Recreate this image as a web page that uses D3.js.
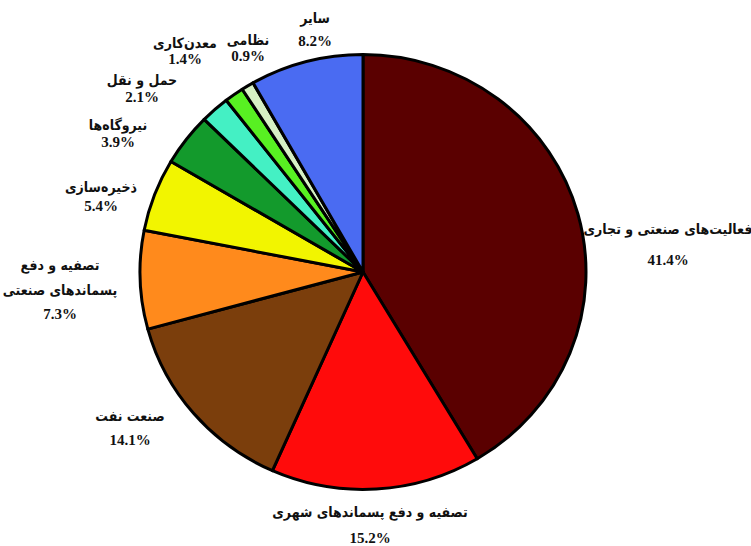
<!DOCTYPE html>
<html>
<head>
<meta charset="utf-8">
<script src="https://cdn.jsdelivr.net/npm/d3@7"></script>
<style>
  body { margin: 0; background: #fff; }
  text { font-family: "Liberation Serif", serif; font-weight: bold; fill: #111; }
  text.fa { font-family: "DejaVu Sans Condensed", "DejaVu Sans", sans-serif; }
</style>
</head>
<body>
<div id="chart"></div>
<script>
// data
var categories = ["فعالیت‌های صنعتی و تجاری", "تصفیه و دفع پسماندهای شهری", "صنعت نفت",
  "تصفیه و دفع پسماندهای صنعتی", "ذخیره‌سازی", "نیروگاه‌ها", "حمل و نقل", "معدن‌کاری", "نظامی", "سایر"];
var values = [41.4, 15.2, 14.1, 7.3, 5.4, 3.9, 2.1, 1.4, 0.9, 8.2];
var colors = ["#5a0000", "#ff0b0b", "#7b3e0c", "#ff8a1c", "#f2f500", "#139a2c", "#44f0c4", "#58f022", "#d6f0c4", "#4a6bf2"];

// label layout: lines of text and anchor point (centre of first line)
var labelLines = [
  ["فعالیت‌های صنعتی و تجاری"],
  ["تصفیه و دفع پسماندهای شهری"],
  ["صنعت نفت"],
  ["تصفیه و دفع", "پسماندهای صنعتی"],
  ["ذخیره‌سازی"],
  ["نیروگاه‌ها"],
  ["حمل و نقل"],
  ["معدن‌کاری"],
  ["نظامی"],
  ["سایر"]
];
var labelPos = [[668, 230, 32], [370, 513, 27], [130, 417, 25], [60, 266, 25], [101, 188, 20],
  [118, 126, 18], [142, 81, 18], [185, 44, 17], [248, 41, 17], [315, 19, 24]];

var width = 751, height = 546;
var cx = 363, cy = 272, r = 223;

var svg = d3.select("#chart").append("svg")
  .attr("width", width)
  .attr("height", height);

var pie = d3.pie().sort(null).value(function(d) { return d; });
var arc = d3.arc().innerRadius(0).outerRadius(r);

var g = svg.append("g")
  .attr("transform", "translate(" + cx + "," + cy + ") scale(1,0.975)");

g.selectAll("path")
  .data(pie(values))
  .enter().append("path")
  .attr("d", arc)
  .style("fill", function(d, i) { return colors[i]; })
  .style("stroke", "#000")
  .style("stroke-width", "3px")
  .style("vector-effect", "non-scaling-stroke")
  .style("stroke-linejoin", "round");

// labels
var lab = svg.append("g");
labelLines.forEach(function(lines, i) {
  var p = labelPos[i];
  lines.forEach(function(t, j) {
    lab.append("text")
      .attr("class", "fa")
      .attr("x", p[0]).attr("y", p[1] + j * 25)
      .attr("text-anchor", "middle")
      .attr("dominant-baseline", "middle")
      .style("font-size", "14px")
      .text(t);
  });
  lab.append("text")
    .attr("x", p[0]).attr("y", p[1] + (lines.length - 1) * 25 + p[2])
    .attr("text-anchor", "middle")
    .attr("dominant-baseline", "middle")
    .style("font-size", "15px")
    .text(values[i].toFixed(1) + "%");
});
</script>
</body>
</html>
